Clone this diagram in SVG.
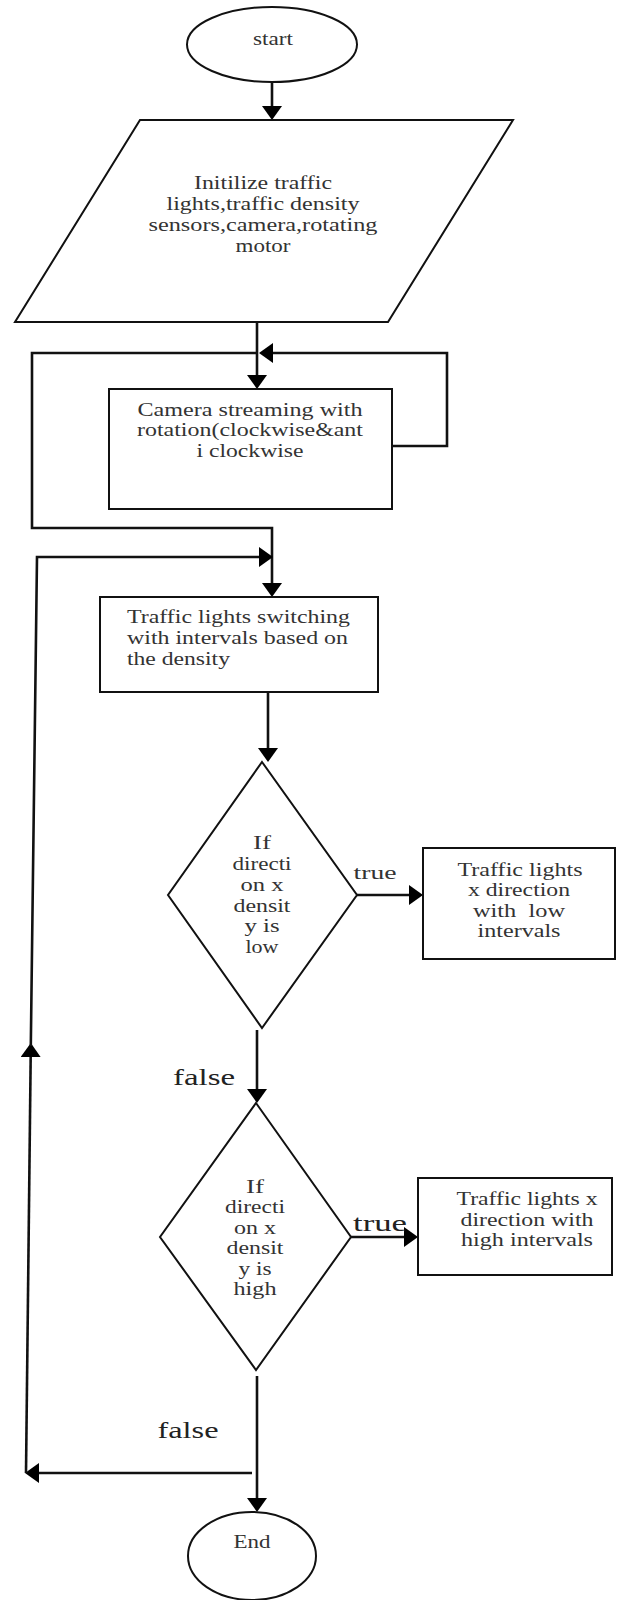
<svg xmlns="http://www.w3.org/2000/svg" width="624" height="1600" viewBox="0 0 624 1600">
<style>
.shape{fill:#fff;stroke:#111;stroke-width:2}
.conn{fill:none;stroke:#111;stroke-width:2.6}
.t{font-family:"Liberation Serif","Times New Roman",serif;font-size:18px;fill:#333;text-anchor:middle}
.tl{font-family:"Liberation Serif","Times New Roman",serif;font-size:18px;fill:#333;text-anchor:start}
.big{font-family:"Liberation Serif","Times New Roman",serif;font-size:24px;fill:#222;text-anchor:middle}
</style>
<defs>
<marker id="ah" viewBox="0 0 14 20" refX="11" refY="10" markerWidth="14" markerHeight="20" markerUnits="userSpaceOnUse" orient="auto">
<path d="M0,0 L14,10 L0,20 z" fill="#000"/>
</marker>
</defs>
<rect width="624" height="1600" fill="#fff"/>

<g id="connectors">
<line class="conn" x1="272" y1="82" x2="272" y2="117" marker-end="url(#ah)"/>
<line class="conn" x1="257" y1="322" x2="257" y2="386" marker-end="url(#ah)"/>
<polyline class="conn" points="392,446 447,446 447,353 262,353" marker-end="url(#ah)"/>
<polyline class="conn" points="257,353 32,353 32,528 272,528 272,594" marker-end="url(#ah)"/>
<line class="conn" x1="268" y1="692" x2="268" y2="759" marker-end="url(#ah)"/>
<line class="conn" x1="357" y1="895" x2="420" y2="895" marker-end="url(#ah)"/>
<line class="conn" x1="257" y1="1030" x2="257" y2="1100" marker-end="url(#ah)"/>
<line class="conn" x1="351" y1="1237" x2="415" y2="1237" marker-end="url(#ah)"/>
<line class="conn" x1="257" y1="1376" x2="257" y2="1509" marker-end="url(#ah)"/>
<line class="conn" x1="252" y1="1473" x2="28" y2="1473" marker-end="url(#ah)"/>
<line class="conn" x1="26" y1="1473" x2="30.8" y2="1046" marker-end="url(#ah)"/>
<polyline class="conn" points="30.8,1046 37,557 270,557" marker-end="url(#ah)"/>
</g>

<g id="start">
<ellipse class="shape" cx="272" cy="44.5" rx="85" ry="37.5"/>
<text class="t" x="273" y="45" font-size="19" textLength="40" lengthAdjust="spacingAndGlyphs">start</text>
</g>

<g id="init">
<polygon class="shape" points="140,120 513,120 388,322 15,322"/>
<text class="t" x="263" y="189" textLength="138" lengthAdjust="spacingAndGlyphs">Initilize traffic</text>
<text class="t" x="263" y="210" textLength="193" lengthAdjust="spacingAndGlyphs">lights,traffic density</text>
<text class="t" x="263" y="231" textLength="229" lengthAdjust="spacingAndGlyphs">sensors,camera,rotating</text>
<text class="t" x="263" y="252" textLength="55" lengthAdjust="spacingAndGlyphs">motor</text>
</g>

<g id="camera">
<rect class="shape" x="109" y="389" width="283" height="120"/>
<text class="t" x="250" y="416" textLength="225" lengthAdjust="spacingAndGlyphs">Camera streaming with</text>
<text class="t" x="250" y="436" textLength="226" lengthAdjust="spacingAndGlyphs">rotation(clockwise&amp;ant</text>
<text class="t" x="250" y="457" textLength="107" lengthAdjust="spacingAndGlyphs">i clockwise</text>
</g>

<g id="switching">
<rect class="shape" x="100" y="597" width="278" height="95"/>
<text class="tl" x="127" y="623" textLength="223" lengthAdjust="spacingAndGlyphs">Traffic lights switching</text>
<text class="tl" x="127" y="644" textLength="221" lengthAdjust="spacingAndGlyphs">with intervals based on</text>
<text class="tl" x="127" y="665" textLength="103" lengthAdjust="spacingAndGlyphs">the density</text>
</g>

<g id="decision-low">
<polygon class="shape" points="262,762 357,895 262,1028 168,895"/>
<text class="t" x="262" y="849" textLength="18" lengthAdjust="spacingAndGlyphs">If</text>
<text class="t" x="262" y="870" textLength="59" lengthAdjust="spacingAndGlyphs">directi</text>
<text class="t" x="262" y="891" textLength="43" lengthAdjust="spacingAndGlyphs">on x</text>
<text class="t" x="262" y="912" textLength="57" lengthAdjust="spacingAndGlyphs">densit</text>
<text class="t" x="262" y="932" textLength="35" lengthAdjust="spacingAndGlyphs">y is</text>
<text class="t" x="262" y="953" textLength="33" lengthAdjust="spacingAndGlyphs">low</text>
</g>
<text class="t" x="375" y="879" textLength="43" lengthAdjust="spacingAndGlyphs">true</text>

<g id="low-intervals">
<rect class="shape" x="423" y="848" width="192" height="111"/>
<text class="t" x="520" y="876" textLength="125" lengthAdjust="spacingAndGlyphs">Traffic lights</text>
<text class="t" x="519" y="896" textLength="102" lengthAdjust="spacingAndGlyphs">x direction</text>
<text class="t" x="519" y="917" textLength="92" lengthAdjust="spacingAndGlyphs" xml:space="preserve">with  low</text>
<text class="t" x="519" y="937" textLength="83" lengthAdjust="spacingAndGlyphs">intervals</text>
</g>

<text class="big" x="204" y="1085" textLength="62" lengthAdjust="spacingAndGlyphs">false</text>

<g id="decision-high">
<polygon class="shape" points="256,1103 351,1237 256,1370 160,1237"/>
<text class="t" x="255" y="1193" textLength="18" lengthAdjust="spacingAndGlyphs">If</text>
<text class="t" x="255" y="1213" textLength="60" lengthAdjust="spacingAndGlyphs">directi</text>
<text class="t" x="255" y="1234" textLength="42" lengthAdjust="spacingAndGlyphs">on x</text>
<text class="t" x="255" y="1254" textLength="57" lengthAdjust="spacingAndGlyphs">densit</text>
<text class="t" x="255" y="1275" textLength="33" lengthAdjust="spacingAndGlyphs">y is</text>
<text class="t" x="255" y="1295" textLength="43" lengthAdjust="spacingAndGlyphs">high</text>
</g>
<text class="big" x="380" y="1231" textLength="54" lengthAdjust="spacingAndGlyphs">true</text>

<g id="high-intervals">
<rect class="shape" x="418" y="1178" width="194" height="97"/>
<text class="t" x="527" y="1205" textLength="141" lengthAdjust="spacingAndGlyphs">Traffic lights x</text>
<text class="t" x="527" y="1226" textLength="133" lengthAdjust="spacingAndGlyphs">direction with</text>
<text class="t" x="527" y="1246" textLength="132" lengthAdjust="spacingAndGlyphs">high intervals</text>
</g>

<text class="big" x="188" y="1438" textLength="61" lengthAdjust="spacingAndGlyphs">false</text>

<g id="end">
<ellipse class="shape" cx="252" cy="1556" rx="64" ry="44"/>
<text class="t" x="252" y="1548" font-size="19" textLength="37" lengthAdjust="spacingAndGlyphs">End</text>
</g>
</svg>
